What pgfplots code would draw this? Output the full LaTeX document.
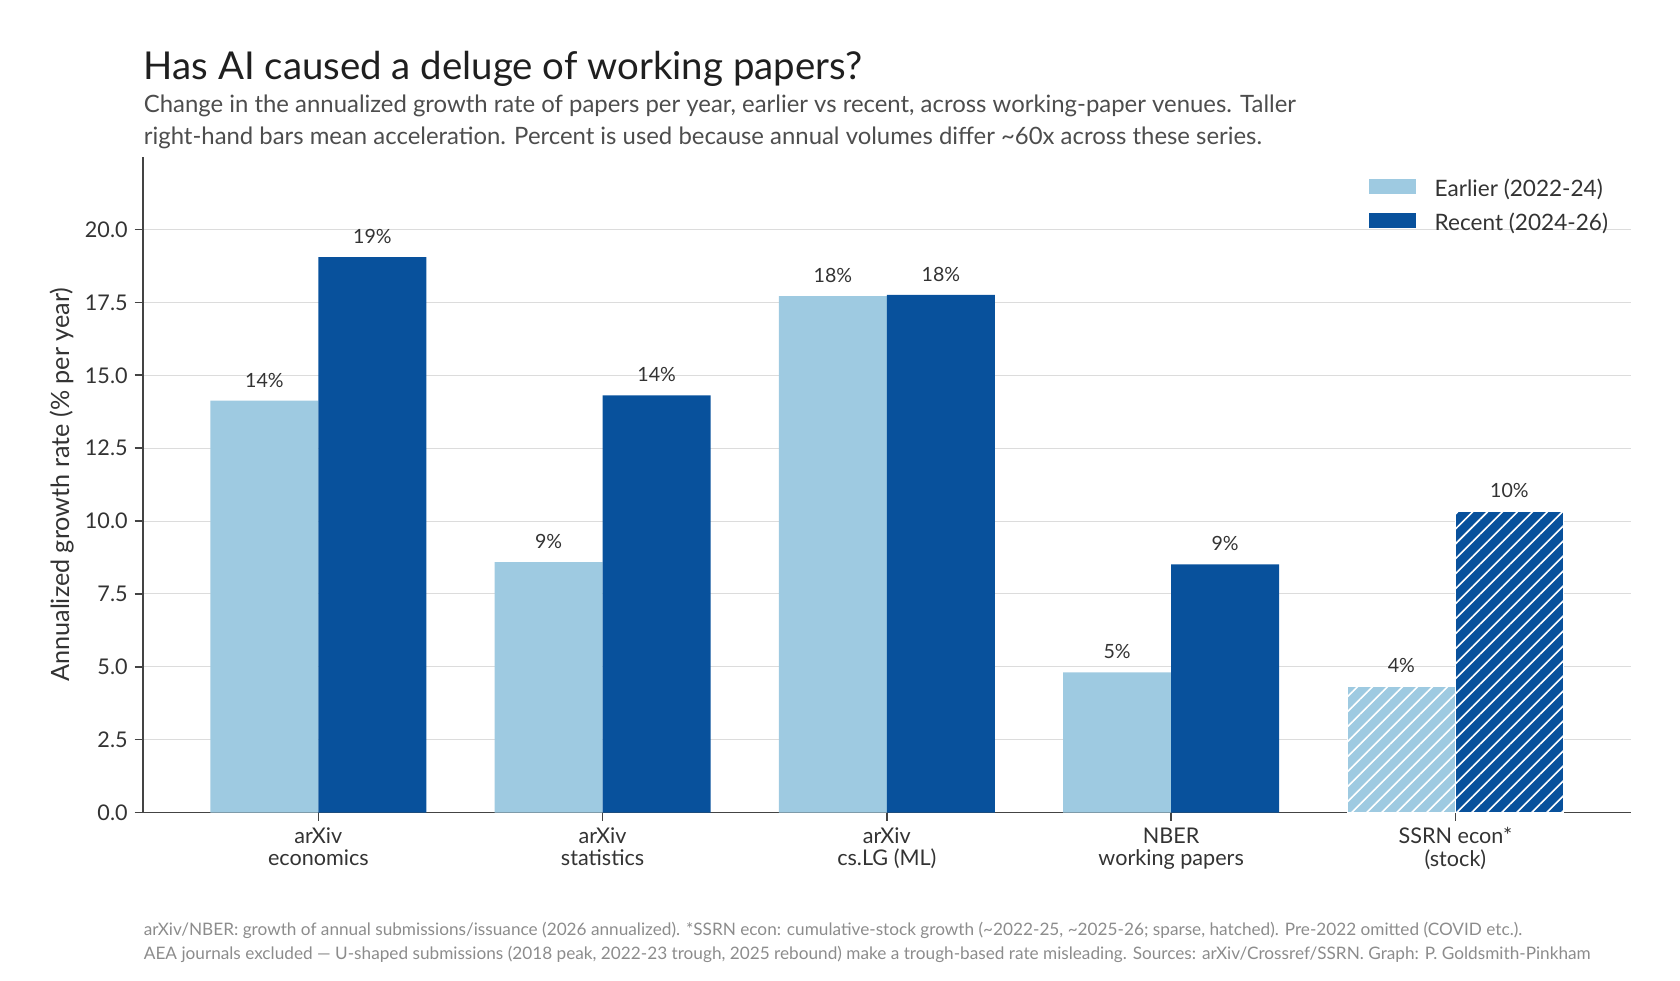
\documentclass[border=0pt]{standalone}
\usepackage{fontspec}
\setmainfont{Lato}
\usepackage{pgfplots}
\pgfplotsset{compat=1.18}
\usetikzlibrary{patterns.meta}
\definecolor{lightb}{HTML}{9ECAE1}
\definecolor{darkb}{HTML}{08519C}
\definecolor{titlec}{HTML}{1F1F1F}
\definecolor{subc}{HTML}{4D4D4D}
\definecolor{tickc}{HTML}{333333}
\definecolor{footc}{HTML}{8C8C8C}
\definecolor{axisc}{HTML}{444444}
\definecolor{gridc}{HTML}{DCDCDC}
\begin{document}
\begin{tikzpicture}
\useasboundingbox (0,0) rectangle (840pt,490pt);
\begin{axis}[
  at={(71.35pt,83.75pt)}, anchor=south west,
  scale only axis, width=744.15pt, height=327.9pt,
  xmin=-0.618, xmax=4.618, ymin=0, ymax=22.5,
  axis x line*=bottom, axis y line*=left,
  axis line style={-, draw=axisc, line width=0.85pt},
  tick style={draw=axisc, line width=0.85pt},
  major tick length=4pt, tick align=outside,
  xtick={0,1,2,3,4},
  xticklabels={{arXiv\\economics},{arXiv\\statistics},{arXiv\\cs.LG (ML)},{NBER\\working papers},{SSRN econ*\\(stock)}},
  xticklabel style={align=center, font=\fontsize{10.8}{11.3}\selectfont, text=tickc},
  ytick={0,2.5,5,7.5,10,12.5,15,17.5,20},
  yticklabel style={font=\fontsize{10.8}{13}\selectfont, text=tickc, /pgf/number format/.cd, fixed, fixed zerofill, precision=1, assume math mode=true},
  ymajorgrids, grid style={draw=gridc, line width=0.5pt},
  every axis y label/.style={at={(axis description cs:-0.0545,0.5)}, anchor=center, rotate=90},
  ylabel={Annualized growth rate (\% per year)},
  ylabel style={font=\fontsize{12.6}{14}\selectfont, text=tickc},
  nodes near coords={\pgfmathprintnumber[fixed,precision=0,assume math mode=true]{\pgfplotspointmeta}\%},
  every node near coord/.append style={font=\fontsize{9.8}{11}\selectfont, text=tickc, anchor=base, yshift=6.8pt},
  legend style={at={(rel axis cs:1,1)}, anchor=north east, xshift=-11.3pt, yshift=-10.7pt, draw=none, fill=none, inner sep=0pt,
    font=\fontsize{11.3}{13}\selectfont, text=tickc, row sep=6.9pt,
    nodes={inner sep=0pt},
    /tikz/every odd column/.append style={column sep=9.5pt}},
  legend cell align=left,
  legend image code/.code={\fill[#1, draw=none] (0pt,-2.4pt) rectangle (23.5pt,5.1pt);},
]
\addplot[ybar, bar width=0.38, bar shift=-0.19, fill=lightb, draw=none,
  every node near coord/.append style={xshift=-27pt}]
  coordinates {(0,14.13) (1,8.59) (2,17.72) (3,4.81)};
\addlegendentry{Earlier (2022-24)}
\addplot[ybar, bar width=0.38, bar shift=0.19, fill=darkb, draw=none,
  every node near coord/.append style={xshift=27pt}]
  coordinates {(0,19.05) (1,14.31) (2,17.76) (3,8.51)};
\addlegendentry{Recent (2024-26)}
\addplot[ybar, bar width=0.38, bar shift=-0.19, fill=lightb, draw=white, line width=0.4pt,
  postaction={pattern={Lines[angle=45,distance=5.3pt,line width=0.8pt]}, pattern color=white},
  every node near coord/.append style={xshift=-27pt}, forget plot]
  coordinates {(4,4.33)};
\addplot[ybar, bar width=0.38, bar shift=0.19, fill=darkb, draw=white, line width=0.4pt,
  postaction={pattern={Lines[angle=45,distance=5.3pt,line width=0.8pt]}, pattern color=white},
  every node near coord/.append style={xshift=27pt}, forget plot]
  coordinates {(4,10.33)};
\end{axis}
\node[anchor=base west, inner sep=0pt, text=titlec, font=\fontsize{19.2}{23}\selectfont] at (71.75pt,450.35pt) {Has AI caused a deluge of working papers?};
\node[anchor=base west, inner sep=0pt, text=subc, font=\fontsize{11.95}{15}\selectfont] at (71.75pt,433.65pt) {Change in the annualized growth rate of papers per year, earlier vs recent, across working-paper venues. Taller};
\node[anchor=base west, inner sep=0pt, text=subc, font=\fontsize{11.95}{15}\selectfont] at (71.75pt,417.85pt) {right-hand bars mean acceleration. Percent is used because annual volumes differ \textasciitilde60x across these series.};
\node[anchor=base west, inner sep=0pt, text=footc, font=\fontsize{8.6}{10}\selectfont] at (71.75pt,22.5pt) {arXiv/NBER: growth of annual submissions/issuance (2026 annualized). *SSRN econ: cumulative-stock growth (\textasciitilde2022-25, \textasciitilde2025-26; sparse, hatched). Pre-2022 omitted (COVID etc.).};
\node[anchor=base west, inner sep=0pt, text=footc, font=\fontsize{8.6}{10}\selectfont] at (71.75pt,10.35pt) {AEA journals excluded — U-shaped submissions (2018 peak, 2022-23 trough, 2025 rebound) make a trough-based rate misleading. Sources: arXiv/Crossref/SSRN. Graph: P. Goldsmith-Pinkham};
\end{tikzpicture}
\end{document}
